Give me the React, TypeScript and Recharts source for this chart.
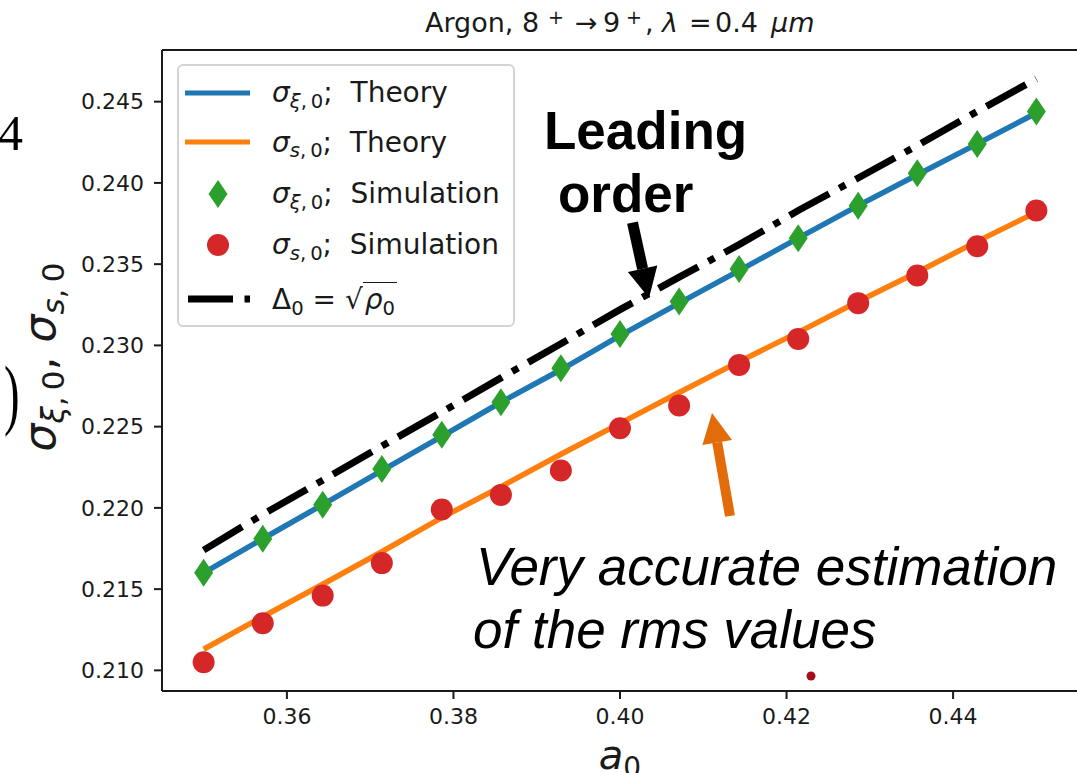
import { ComposedChart, Line, Scatter, XAxis, YAxis, ReferenceLine, Legend } from 'recharts';

const MPL = "'DejaVu Sans', sans-serif";
const ARIAL = "'Liberation Sans', Arial, sans-serif";
const SERIF = "'Liberation Serif', serif";
const INK = '#1a1a1a';

// a0 sample points and the five series
const A0 = [0.35, 0.3571, 0.3643, 0.3714, 0.3786, 0.3857, 0.3929, 0.4, 0.4071, 0.4143, 0.4214, 0.4286, 0.4357, 0.4429, 0.45];
const THEORY_XI = [0.216, 0.2181, 0.2202, 0.2223, 0.2244, 0.2265, 0.2285, 0.2306, 0.2326, 0.2346, 0.2366, 0.2386, 0.2405, 0.2424, 0.2443];
const THEORY_S = [0.2113, 0.2133, 0.2153, 0.2173, 0.2194, 0.2213, 0.2233, 0.2252, 0.2271, 0.229, 0.2308, 0.2327, 0.2345, 0.2364, 0.2382];
const SIM_XI = [0.216, 0.2181, 0.2202, 0.2224, 0.2245, 0.2265, 0.2286, 0.2307, 0.2327, 0.2347, 0.2366, 0.2386, 0.2406, 0.2424, 0.2444];
const SIM_S = [0.2105, 0.2129, 0.2146, 0.2166, 0.2199, 0.2208, 0.2223, 0.2249, 0.2263, 0.2288, 0.2304, 0.2326, 0.2343, 0.2361, 0.2383];
const LEADING = [0.2174, 0.2196, 0.2217, 0.2238, 0.2259, 0.228, 0.2301, 0.2322, 0.2342, 0.2362, 0.2383, 0.2403, 0.2423, 0.2444, 0.2464];

const X_TICKS = [0.36, 0.38, 0.4, 0.42, 0.44];
const Y_TICKS = [0.21, 0.215, 0.22, 0.225, 0.23, 0.235, 0.24, 0.245];
const X_DOMAIN = [0.345, 0.455];
const Y_DOMAIN = [0.20873, 0.24818];

const COLORS = { blue: '#1f77b4', orange: '#ff7f0e', green: '#2ca02c', red: '#d62728' };

const data = A0.map((a, i) => ({
  a,
  thXi: THEORY_XI[i],
  thS: THEORY_S[i],
  simXi: SIM_XI[i],
  simS: SIM_S[i],
  lead: LEADING[i],
}));

const DASHDOT = '45 11.5 7 11.5';

const Diamond = (props: any) => {
  const { cx, cy } = props;
  if (cx == null || cy == null) return null;
  return <polygon points={`${cx},${cy - 14} ${cx + 9.5},${cy} ${cx},${cy + 14} ${cx - 9.5},${cy}`} fill={COLORS.green} />;
};

const Dot = (props: any) => {
  const { cx, cy } = props;
  if (cx == null || cy == null) return null;
  return <circle cx={cx} cy={cy} r={11} fill={COLORS.red} />;
};

const Sub = ({ children }: { children: any }) => (
  <span style={{ fontSize: '0.7em', position: 'relative', top: '0.3em' }}>{children}</span>
);

const SigXi = () => (
  <>
    <i>σ</i>
    <Sub><i>ξ</i>,{'\u2009'}0</Sub>
  </>
);
const SigS = () => (
  <>
    <i>σ</i>
    <Sub><i>s</i>,{'\u2009'}0</Sub>
  </>
);

const ROW_Y = [26.7, 76, 127.7, 178.7, 233.3];

const LegendBox = () => {
  const rows = [
    { icon: <line x1={6} x2={71} y1={22} y2={22} stroke={COLORS.blue} strokeWidth={5} />, text: <><SigXi />;  Theory</> },
    { icon: <line x1={6} x2={71} y1={22} y2={22} stroke={COLORS.orange} strokeWidth={5} />, text: <><SigS />;  Theory</> },
    { icon: <Diamond cx={39} cy={22} />, text: <><SigXi />;  Simulation</> },
    { icon: <Dot cx={39} cy={22} />, text: <><SigS />;  Simulation</> },
    {
      icon: <line x1={9} x2={71} y1={22} y2={22} stroke="#000" strokeWidth={7} strokeDasharray={DASHDOT} />,
      text: (
        <>
          Δ<Sub>0</Sub> = √
          <span style={{ borderTop: `1.5px solid ${INK}`, paddingLeft: 2, paddingRight: 2 }}>
            <i>ρ</i>
            <Sub>0</Sub>
          </span>
        </>
      ),
    },
  ];
  return (
    <div
      style={{
        width: 338,
        height: 263,
        boxSizing: 'border-box',
        border: '2px solid #d4d4d4',
        borderRadius: 6,
        background: 'rgba(255,255,255,0.8)',
        position: 'relative',
        fontFamily: MPL,
        fontSize: 28,
        color: INK,
      }}
    >
      {rows.map((r, i) => (
        <div
          key={i}
          style={{ position: 'absolute', left: 0, top: ROW_Y[i] - 22, height: 44, display: 'flex', alignItems: 'center' }}
        >
          <svg width={90} height={44} style={{ display: 'block', flex: 'none' }}>
            {r.icon}
          </svg>
          <span style={{ whiteSpace: 'pre', marginLeft: 3 }}>{r.text}</span>
        </div>
      ))}
    </div>
  );
};

const tickStyle = { fill: INK, fontSize: 22, fontFamily: MPL };
const axisStroke = { stroke: INK, strokeWidth: 2 };

const Overlay = () => (
  <svg width={1077} height={773} style={{ position: 'absolute', left: 0, top: 0, pointerEvents: 'none' }}>
    {/* title */}
    <text y={32} fontFamily={MPL} fontSize={27} fill={INK}>
      <tspan x={425}>Argon, 8</tspan>
      <tspan x={548} y={24} fontSize={19}>+</tspan>
      <tspan x={575} y={32}>→</tspan>
      <tspan x={603}>9</tspan>
      <tspan x={626} y={24} fontSize={19}>+</tspan>
      <tspan x={645} y={32}>,</tspan>
      <tspan x={662} fontStyle="italic">λ</tspan>
      <tspan x={689}>=</tspan>
      <tspan x={715}>0.4</tspan>
      <tspan x={771} fontStyle="italic">μm</tspan>
    </text>

    {/* fragments of the neighbouring label */}
    <text x={-2} y={150} fontFamily={SERIF} fontSize={50} fill="#000">4</text>
    <text transform="translate(4,420) scale(0.6,1)" fontFamily={SERIF} fontSize={78} fill="#000">)</text>

    {/* axis labels */}
    <text transform="translate(55,357) rotate(-90)" textAnchor="middle" fontFamily={MPL} fontSize={44} fill={INK}>
      <tspan fontStyle="italic">σ</tspan>
      <tspan dy={9} fontSize={31} fontStyle="italic">ξ</tspan>
      <tspan fontSize={31}>,{'\u2009'}0</tspan>
      <tspan dy={-9}>, </tspan>
      <tspan fontStyle="italic">σ</tspan>
      <tspan dy={9} fontSize={31} fontStyle="italic">s</tspan>
      <tspan fontSize={31}>,{'\u2009'}0</tspan>
    </text>
    <text x={620} y={769} textAnchor="middle" fontFamily={MPL} fontSize={40} fill={INK}>
      <tspan fontStyle="italic">a</tspan>
      <tspan dy={8} fontSize={28}>0</tspan>
    </text>

    {/* annotations */}
    <text fontFamily={ARIAL} fontWeight="bold" fontSize={53} fill="#000">
      <tspan x={544} y={149}>Leading</tspan>
      <tspan x={558} y={212}>order</tspan>
    </text>
    <line x1={632.5} y1={222.6} x2={642.6} y2={268.7} stroke="#000" strokeWidth={11} />
    <polygon points="627.9,271.9 657.3,265.5 649,298" fill="#000" />

    <text fontFamily={ARIAL} fontStyle="italic" fontSize={53} fill="#000">
      <tspan x={476} y={585}>Very accurate estimation</tspan>
      <tspan x={473} y={648}>of the rms values</tspan>
    </text>
    <line x1={730} y1={516} x2={717.2} y2={442.5} stroke="#e36c0a" strokeWidth={10} />
    <polygon points="702.4,445.1 732,439.9 712,413" fill="#e36c0a" />

    <circle cx={811} cy={676} r={4.5} fill="#a30f1d" />
  </svg>
);

const App = () => (
  <div style={{ position: 'absolute', left: 0, top: 0, width: 1077, height: 773, overflow: 'hidden', background: '#fff' }}>
    <ComposedChart width={1090} height={773} data={data} margin={{ top: 50, right: 12, bottom: 0, left: 0 }}>
      <XAxis
        type="number"
        dataKey="a"
        domain={X_DOMAIN}
        ticks={X_TICKS}
        allowDataOverflow
        tickFormatter={(v: number) => v.toFixed(2)}
        tick={tickStyle}
        axisLine={axisStroke}
        tickLine={axisStroke}
        tickSize={8}
        tickMargin={9}
        height={82}
      />
      <YAxis
        type="number"
        domain={Y_DOMAIN}
        ticks={Y_TICKS}
        allowDataOverflow
        tickFormatter={(v: number) => v.toFixed(3)}
        tick={tickStyle}
        axisLine={axisStroke}
        tickLine={axisStroke}
        tickSize={8}
        tickMargin={10}
        width={162}
      />
      <ReferenceLine y={Y_DOMAIN[1]} stroke={INK} strokeWidth={2} />
      <Line dataKey="thXi" stroke={COLORS.blue} strokeWidth={5.5} dot={false} isAnimationActive={false} />
      <Line dataKey="thS" stroke={COLORS.orange} strokeWidth={5.5} dot={false} isAnimationActive={false} />
      <Line dataKey="lead" stroke="#000" strokeWidth={7} strokeDasharray={DASHDOT} dot={false} isAnimationActive={false} />
      <Scatter dataKey="simXi" shape={Diamond} isAnimationActive={false} />
      <Scatter dataKey="simS" shape={Dot} isAnimationActive={false} />
      <Legend
        layout="horizontal"
        align="center"
        verticalAlign="middle"
        content={() => <LegendBox />}
        wrapperStyle={{ left: 177, top: 64, width: 338, height: 263 }}
      />
    </ComposedChart>
    <Overlay />
  </div>
);

export default App;
